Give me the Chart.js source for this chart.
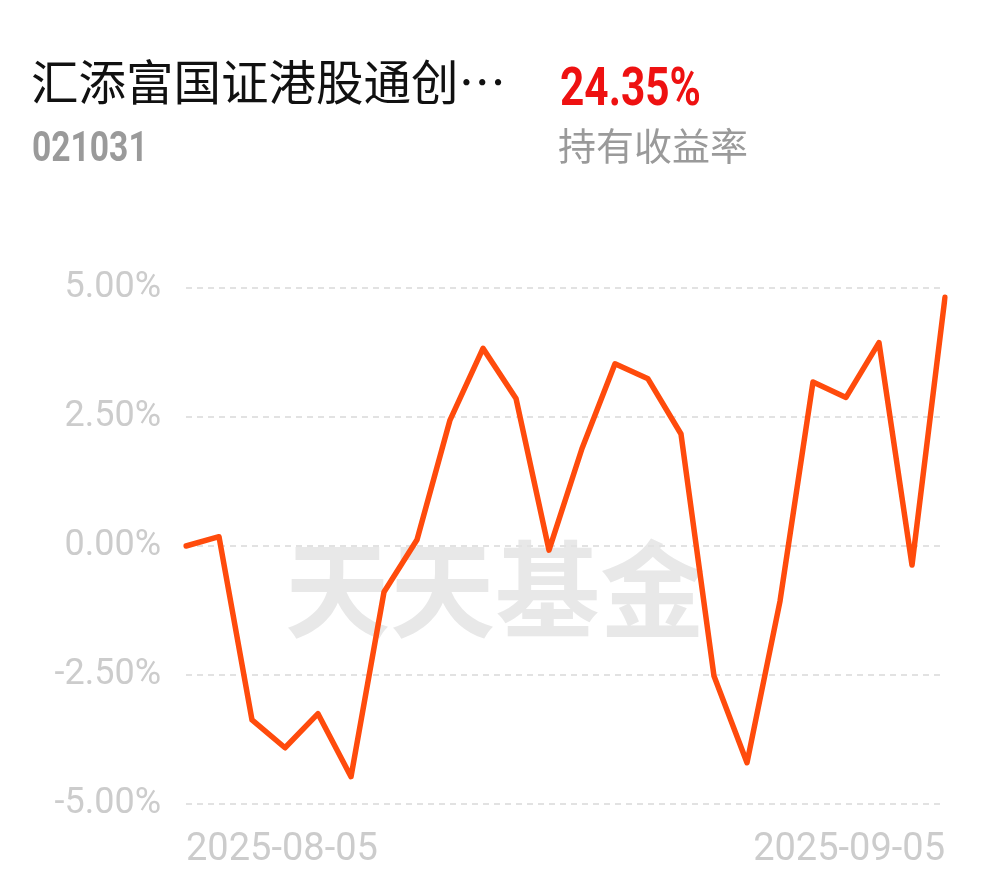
<!DOCTYPE html>
<html>
<head>
<meta charset="utf-8">
<script src="https://cdn.jsdelivr.net/npm/chart.js@4.4.0/dist/chart.umd.min.js"></script>
<style>
    html, body { margin: 0; padding: 0; background: #fff; }
    #wrap { position: relative; width: 990px; height: 878px; overflow: hidden; }
    #fundChart { position: absolute; left: 0; top: 0; }
    .hd { position: absolute; white-space: nowrap; line-height: 1; }
    .fundName { left: 31px; top: 45px; font: 47.5px "Noto Sans CJK SC", sans-serif; color: #111; }
    .fundCode { left: 32px; top: 122px; font: bold 42px Roboto, sans-serif; color: #9a9a9a; transform: scaleX(0.8); transform-origin: left top; }
    .yieldVal { left: 560px; top: 56px; font: bold 53px Roboto, sans-serif; color: #ee1111; transform: scaleX(0.8); transform-origin: left top; }
    .yieldLabel { left: 558px; top: 116px; font: 38px "Noto Sans CJK SC", sans-serif; color: #9a9a9a; }
</style>
</head>
<body>
<div id="wrap">
    <canvas id="fundChart" width="990" height="878"></canvas>
    <div class="hd fundName">汇添富国证港股通创…</div>
    <div class="hd fundCode">021031</div>
    <div class="hd yieldVal">24.35%</div>
    <div class="hd yieldLabel">持有收益率</div>
</div>
<script>
// trading days shown on the x axis
const dates = [
    '2025-08-05', '2025-08-06', '2025-08-07', '2025-08-08',
    '2025-08-11', '2025-08-12', '2025-08-13', '2025-08-14', '2025-08-15',
    '2025-08-18', '2025-08-19', '2025-08-20', '2025-08-21', '2025-08-22',
    '2025-08-25', '2025-08-26', '2025-08-27', '2025-08-28', '2025-08-29',
    '2025-09-01', '2025-09-02', '2025-09-03', '2025-09-04', '2025-09-05'
];
// return (%)
const returns = [
    0.00, 0.18, -3.37, -3.91, -3.25, -4.47, -0.89, 0.12, 2.44,
    3.83, 2.86, -0.08, 1.89, 3.53, 3.24, 2.17, -2.52, -4.20,
    -1.07, 3.18, 2.88, 3.94, -0.37, 4.82
];
// y axis ticks
const yTicks = [-5, -2.5, 0, 2.5, 5];

const labelColor = '#cccccc';
const gridColor = '#e2e2e2';
const lineColor = '#ff4b0c';

// gray watermark behind the line
const watermark = {
    id: 'watermark',
    beforeDraw(chart) {
        const ctx = chart.ctx;
        ctx.save();
        ctx.font = 'bold 105px "Noto Sans CJK SC", sans-serif';
        ctx.fillStyle = '#e8e8e8';
        ctx.textAlign = 'center';
        ctx.textBaseline = 'middle';
        ctx.fillText('天天基金', 495, 589);
        ctx.restore();
    }
};

const chart = new Chart(document.getElementById('fundChart'), {
    type: 'line',
    data: {
        labels: dates,
        datasets: [{
            data: returns,
            borderColor: lineColor,
            borderWidth: 5.5,
            borderJoinStyle: 'round',
            borderCapStyle: 'round',
            pointRadius: 0,
            tension: 0,
            fill: false
        }]
    },
    options: {
        responsive: false,
        animation: false,
        layout: { padding: { top: 288, right: 45, left: 0, bottom: 0 } },
        plugins: { legend: { display: false }, tooltip: { enabled: false } },
        scales: {
            x: {
                offset: false,
                grid: { display: false, drawTicks: false },
                border: { display: false },
                afterFit: s => { s.height = 74; },
                ticks: {
                    autoSkip: false,
                    maxRotation: 0,
                    align: 'inner',
                    padding: 24,
                    color: labelColor,
                    font: { family: 'Roboto', size: 38 },
                    callback: function (v, i) {
                        return (i === 0 || i === dates.length - 1) ? dates[i] : null;
                    }
                }
            },
            y: {
                min: yTicks[0],
                max: yTicks[yTicks.length - 1],
                afterBuildTicks: s => { s.ticks = yTicks.map(v => ({ value: v })); },
                afterFit: s => { s.width = 186; },
                grid: { color: gridColor, lineWidth: 2, drawTicks: false },
                border: { display: false, dash: [6, 5] },
                ticks: {
                    padding: 25,
                    color: labelColor,
                    font: { family: 'Roboto', size: 36 },
                    callback: v => v.toFixed(2) + '%'
                }
            }
        }
    },
    plugins: [watermark]
});
</script>
</body>
</html>
